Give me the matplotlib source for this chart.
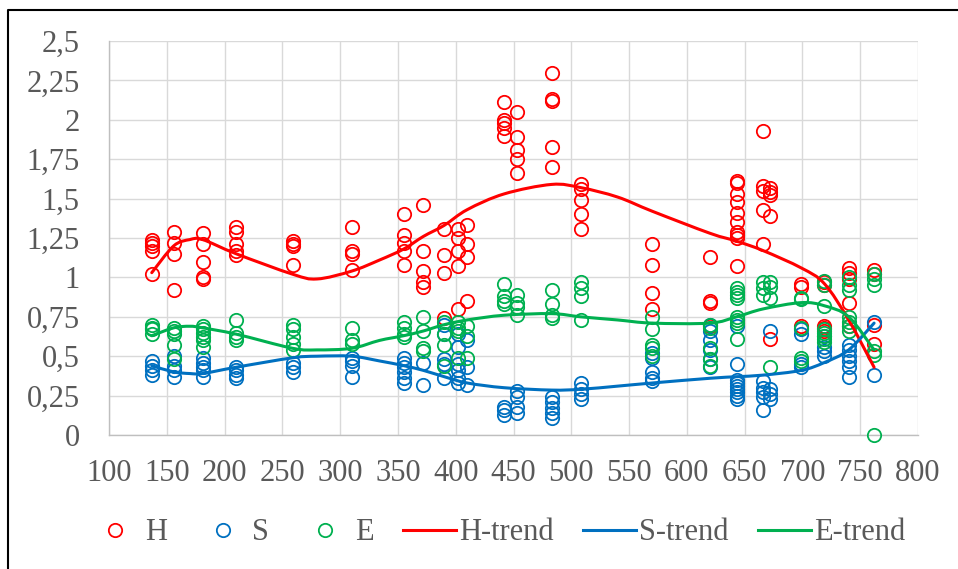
import matplotlib
matplotlib.use("Agg")
import matplotlib.pyplot as plt
from matplotlib.path import Path
from matplotlib.patches import PathPatch
from matplotlib.lines import Line2D
from matplotlib.ticker import FuncFormatter, MultipleLocator

# measurement groups (x position of each column of points)
group_x = [137, 156, 181, 210, 259, 310, 355, 372, 390, 402, 410, 442,
           453, 483, 508, 570, 620, 643, 666, 672, 699, 719, 740, 762]

h_vals = [
    [1.24, 1.22, 1.20, 1.17, 1.02],
    [1.29, 1.22, 1.15, 0.92],
    [1.28, 1.21, 1.10, 1.00, 0.99],
    [1.32, 1.29, 1.21, 1.17, 1.14],
    [1.23, 1.21, 1.20, 1.08],
    [1.32, 1.17, 1.15, 1.05],
    [1.40, 1.27, 1.22, 1.17, 1.08],
    [1.46, 1.17, 1.04, 0.97, 0.94],
    [1.31, 1.14, 1.03, 0.74],
    [1.31, 1.25, 1.17, 1.07, 0.80],
    [1.33, 1.21, 1.13, 0.85],
    [2.11, 2.00, 1.98, 1.95, 1.90],
    [2.05, 1.89, 1.81, 1.75, 1.66],
    [2.30, 2.13, 2.12, 1.83, 1.70],
    [1.59, 1.56, 1.49, 1.40, 1.31],
    [1.21, 1.08, 0.90, 0.80],
    [1.13, 0.85, 0.84, 0.69],
    [1.61, 1.60, 1.53, 1.48, 1.41, 1.35, 1.29, 1.27, 1.25, 1.07],
    [1.93, 1.58, 1.55, 1.43, 1.21],
    [1.57, 1.54, 1.52, 1.39, 0.61],
    [0.96, 0.94, 0.69],
    [0.97, 0.95, 0.69, 0.68, 0.66],
    [1.06, 1.03, 0.99, 0.84, 0.69],
    [1.05, 1.02, 0.70, 0.58],
]

s_vals = [
    [0.47, 0.44, 0.41, 0.38],
    [0.50, 0.44, 0.41, 0.37],
    [0.49, 0.46, 0.43, 0.41, 0.37],
    [0.43, 0.41, 0.38, 0.36],
    [0.46, 0.43, 0.40],
    [0.49, 0.47, 0.44, 0.37],
    [0.49, 0.46, 0.43, 0.40, 0.36, 0.33],
    [0.46, 0.32],
    [0.70, 0.64, 0.48, 0.45, 0.36],
    [0.64, 0.56, 0.45, 0.41, 0.36, 0.33],
    [0.60, 0.43, 0.32],
    [0.18, 0.16, 0.13],
    [0.28, 0.24, 0.18, 0.14],
    [0.24, 0.21, 0.17, 0.14, 0.11],
    [0.33, 0.29, 0.26, 0.23],
    [0.52, 0.49, 0.40, 0.36, 0.34],
    [0.70, 0.66, 0.60, 0.54, 0.48, 0.43],
    [0.69, 0.45, 0.35, 0.33, 0.31, 0.29, 0.27, 0.25, 0.23],
    [0.34, 0.30, 0.27, 0.24, 0.16],
    [0.66, 0.29, 0.26, 0.23],
    [0.67, 0.64, 0.45, 0.43],
    [0.63, 0.56, 0.53, 0.50],
    [0.57, 0.54, 0.50, 0.47, 0.43, 0.37],
    [0.72, 0.38],
]

e_vals = [
    [0.70, 0.68, 0.67, 0.64],
    [0.68, 0.66, 0.64, 0.57, 0.48],
    [0.69, 0.67, 0.65, 0.62, 0.60, 0.56],
    [0.73, 0.65, 0.62, 0.60],
    [0.70, 0.67, 0.62, 0.58, 0.54],
    [0.68, 0.60, 0.58],
    [0.72, 0.68, 0.64, 0.62],
    [0.75, 0.66, 0.55, 0.53],
    [0.72, 0.64, 0.57, 0.44],
    [0.72, 0.68, 0.66, 0.49],
    [0.69, 0.63, 0.49],
    [0.96, 0.88, 0.85, 0.83],
    [0.89, 0.84, 0.81, 0.76],
    [0.92, 0.83, 0.76, 0.74],
    [0.97, 0.93, 0.88, 0.73],
    [0.75, 0.67, 0.57, 0.55, 0.50],
    [0.70, 0.68, 0.55, 0.48, 0.44],
    [0.93, 0.91, 0.89, 0.87, 0.75, 0.73, 0.71, 0.61],
    [0.97, 0.93, 0.89],
    [0.97, 0.94, 0.87, 0.43],
    [0.87, 0.86, 0.68, 0.49, 0.47],
    [0.98, 0.95, 0.82, 0.67, 0.65, 0.63, 0.61, 0.59],
    [1.00, 0.95, 0.92, 0.75, 0.72, 0.69, 0.66],
    [1.02, 0.99, 0.95, 0.53, 0.51, 0.00],
]

# trend curves (read at these x positions)
trend_x = [137, 156, 170, 181, 210, 259, 280, 310, 334, 355, 372, 390, 410,
           442, 483, 508, 540, 570, 620, 643, 666, 699, 719, 740, 762]
h_trend = [1.03, 1.20, 1.24, 1.24, 1.15, 1.02, 0.99, 1.04, 1.11, 1.18, 1.26,
           1.33, 1.43, 1.53, 1.59, 1.57, 1.51, 1.42, 1.28, 1.23, 1.17, 1.06,
           0.96, 0.73, 0.43]
s_trend = [0.44, 0.40, 0.39, 0.39, 0.43, 0.49, 0.50, 0.50, 0.47, 0.44, 0.41,
           0.37, 0.33, 0.30, 0.285, 0.29, 0.31, 0.33, 0.36, 0.37, 0.38, 0.41,
           0.46, 0.54, 0.71]
e_trend = [0.63, 0.68, 0.69, 0.68, 0.64, 0.55, 0.54, 0.55, 0.60, 0.63, 0.66,
           0.70, 0.73, 0.76, 0.77, 0.75, 0.73, 0.71, 0.71, 0.75, 0.80, 0.84,
           0.82, 0.75, 0.54]

RED = "#FF0000"
BLUE = "#0070C0"
GREEN = "#00B050"
GREY = "#595959"


def flatten(xs, groups):
    px, py = [], []
    for x, ys in zip(xs, groups):
        for y in ys:
            px.append(x)
            py.append(y)
    return px, py


def smooth_path(xs, ys):
    # catmull-rom through the knots, as bezier segments (like Excel's smoothed line)
    pts = list(zip(xs, ys))
    n = len(pts)
    verts = [pts[0]]
    codes = [Path.MOVETO]
    for i in range(n - 1):
        p0 = pts[i - 1] if i > 0 else pts[i]
        p1 = pts[i]
        p2 = pts[i + 1]
        p3 = pts[i + 2] if i + 2 < n else pts[i + 1]
        c1 = (p1[0] + (p2[0] - p0[0]) / 6, p1[1] + (p2[1] - p0[1]) / 6)
        c2 = (p2[0] - (p3[0] - p1[0]) / 6, p2[1] - (p3[1] - p1[1]) / 6)
        verts += [c1, c2, p2]
        codes += [Path.CURVE4] * 3
    return Path(verts, codes)


plt.rcParams["font.family"] = ["Liberation Serif", "DejaVu Serif"]

fig = plt.figure(figsize=(9.58, 5.69), dpi=100)
ax = fig.add_axes([109 / 958, 1 - 435 / 569, (918 - 109) / 958, (435 - 41) / 569])

mk = dict(marker="o", linestyle="none", mfc="none", ms=9.6, mew=1.3)
for vals, col in [(h_vals, RED), (s_vals, BLUE), (e_vals, GREEN)]:
    px, py = flatten(group_x, vals)
    ax.plot(px, py, mec=col, clip_on=False, zorder=3, **mk)

for ty, col in [(h_trend, RED), (s_trend, BLUE), (e_trend, GREEN)]:
    ax.add_patch(PathPatch(smooth_path(trend_x, ty), fill=False, edgecolor=col,
                           lw=2.2, capstyle="round", zorder=4))

ax.set_xlim(100, 800)
ax.set_ylim(0, 2.5)
ax.xaxis.set_major_locator(MultipleLocator(50))
ax.yaxis.set_major_locator(MultipleLocator(0.25))
ax.yaxis.set_major_formatter(FuncFormatter(lambda v, p: f"{v:g}".replace(".", ",")))
ax.xaxis.set_major_formatter(FuncFormatter(lambda v, p: f"{v:g}"))
ax.tick_params(length=0, labelsize=22, colors=GREY)
ax.tick_params(axis="y", pad=21)
ax.tick_params(axis="x", pad=17)
ax.grid(True, color="#D9D9D9", lw=1.0)
ax.set_axisbelow(True)
for side in ["top", "right"]:
    ax.spines[side].set_visible(False)
for side in ["left", "bottom"]:
    ax.spines[side].set_color("#BFBFBF")
    ax.spines[side].set_linewidth(1.0)

handles = [
    Line2D([], [], mec=RED, **mk),
    Line2D([], [], mec=BLUE, **mk),
    Line2D([], [], mec=GREEN, **mk),
    Line2D([], [], color=RED, lw=2.2),
    Line2D([], [], color=BLUE, lw=2.2),
    Line2D([], [], color=GREEN, lw=2.2),
]
labels = ["H", "S", "E", "H-trend", "S-trend", "E-trend"]
leg = fig.legend(handles, labels, loc="center", bbox_to_anchor=(497 / 958, 1 - 533 / 569),
                 ncol=6, frameon=False, fontsize=22, handlelength=1.75,
                 handletextpad=0.1, columnspacing=0.95)
for t in leg.get_texts():
    t.set_color(GREY)

# chart border (top and left edges visible)
fig.add_artist(Line2D([8 / 958, 8 / 958, 1], [0, 1 - 10 / 569, 1 - 10 / 569],
                      color="black", lw=1.5))

fig.savefig("out.png", dpi=100)
